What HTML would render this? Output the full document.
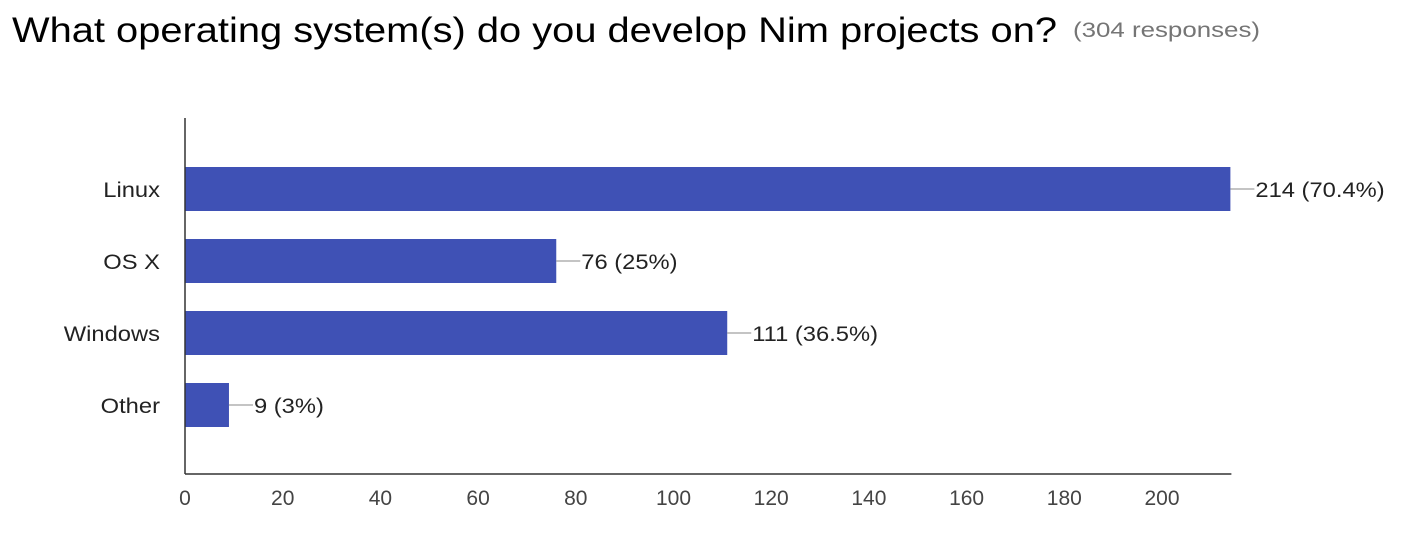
<!DOCTYPE html>
<html><head><meta charset="utf-8"><style>
html,body{margin:0;padding:0;background:#fff;width:1404px;height:534px;overflow:hidden;font-family:"Liberation Sans",Arial,sans-serif}
</style></head><body>
<svg width="1404" height="534">
<text x="12" y="42" font-size="35" fill="#000" textLength="1045" lengthAdjust="spacingAndGlyphs">What operating system(s) do you develop Nim projects on?</text>
<text x="1073" y="37" font-size="21" fill="#757575" textLength="187" lengthAdjust="spacingAndGlyphs">(304 responses)</text>
<g id="plot"></g>
</svg>
<script>
const categories=["Linux","OS X","Windows","Other"];
const values=[214,76,111,9];
const labels=["214 (70.4%)","76 (25%)","111 (36.5%)","9 (3%)"];
const ticks=[0,20,40,60,80,100,120,140,160,180,200];
const x0=185,pxPer=977/200,yAxisTop=118,yAxisBot=474;
const xs=v=>x0+v*pxPer;
const ys=i=>167+i*72;
const g=document.getElementById('plot');
const NS='http://www.w3.org/2000/svg';
function mk(t,a){const e=document.createElementNS(NS,t);for(const k in a)e.setAttribute(k,a[k]);g.appendChild(e);return e;}
function widen(e,f){const w=e.getComputedTextLength();e.setAttribute('textLength',w*f);e.setAttribute('lengthAdjust','spacingAndGlyphs');}
categories.forEach((c,i)=>{
  const y=ys(i);
  const b=mk('rect',{x:x0,y:y,width:xs(values[i])-x0,height:44,fill:'#3f51b5'});
  
  
  const l=mk('line',{x1:xs(values[i]),x2:xs(values[i])+24,y1:y+22,y2:y+22,stroke:'#888','stroke-width':1});
  
  
  const vt=mk('text',{x:xs(values[i])+25,y:y+30,'font-size':21,fill:'#222'});
  vt.textContent=labels[i];
  
  
  widen(vt,1.13);
  const ct=mk('text',{x:160,y:y+30,'font-size':21,fill:'#222','text-anchor':'end'});
  ct.textContent=c;
  
  
  widen(ct,1.13);
});
ticks.forEach(t=>{
  const tt=mk('text',{x:xs(t),y:505,'font-size':21,fill:'#444','text-anchor':'middle'});
  tt.textContent=t;
  
  
});
const ya=mk('line',{x1:x0,x2:x0,y1:yAxisTop,y2:yAxisBot,stroke:'#333','stroke-width':1.5});


const xa=mk('line',{x1:x0,x2:xs(214)+1,y1:yAxisBot,y2:yAxisBot,stroke:'#333','stroke-width':1.5});


</script>
</body></html>
